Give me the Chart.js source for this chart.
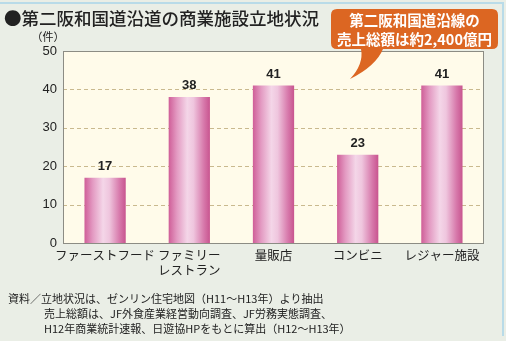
<!DOCTYPE html>
<html>
<head>
<meta charset="utf-8">
<script src="https://cdn.jsdelivr.net/npm/chart.js@4/dist/chart.umd.min.js"></script>
<style>
  html, body { margin: 0; padding: 0; background: #eaeee6; }
  #wrap { width: 506px; height: 341px; position: relative; }
</style>
</head>
<body>
<div id="wrap"><canvas id="chart" width="506" height="341"></canvas></div>
<script>
const categories = ['ファーストフード', ['ファミリー', 'レストラン'], '量販店', 'コンビニ', 'レジャー施設'];
const counts = [17, 38, 41, 23, 41];
const yTicks = [0, 10, 20, 30, 40, 50];

const titleText = '●第二阪和国道沿道の商業施設立地状況';
const unitText = '（件）';
const calloutLines = ['第二阪和国道沿線の', '売上総額は約2,400億円'];
const noteLines = [
  '資料／立地状況は、ゼンリン住宅地図（H11～H13年）より抽出',
  '売上総額は、JF外食産業経営動向調査、JF労務実態調査、',
  'H12年商業統計速報、日遊協HPをもとに算出（H12～H13年）'
];

const JP = '"Noto Sans CJK JP", "Noto Sans", sans-serif';
const BAR_PCT = 0.49;

// cylinder-like pink shading across each bar
function barGradient(context) {
  const chart = context.chart;
  const xs = chart.scales.x;
  if (!xs || !chart.chartArea) return '#e08ab8';
  const cx = xs.getPixelForValue(context.dataIndex);
  const w = (chart.chartArea.right - chart.chartArea.left) / categories.length * BAR_PCT;
  const g = chart.ctx.createLinearGradient(cx - w / 2, 0, cx + w / 2, 0);
  g.addColorStop(0, '#cf5e98');
  g.addColorStop(0.2, '#e39ac2');
  g.addColorStop(0.45, '#f4d6e8');
  g.addColorStop(0.6, '#efc6de');
  g.addColorStop(0.85, '#d779ab');
  g.addColorStop(1, '#c8548f');
  return g;
}

// dashed horizontal grid lines between the frame edges
const gridDash = {
  id: 'gridDash',
  beforeDatasetsDraw(chart) {
    const { ctx, chartArea: a, scales: { y } } = chart;
    ctx.save();
    ctx.strokeStyle = '#c9b98e';
    ctx.lineWidth = 1;
    ctx.setLineDash([4, 3]);
    y.ticks.forEach(t => {
      if (t.value === 0 || t.value === 50) return;
      const py = Math.round(y.getPixelForValue(t.value)) + 0.5;
      ctx.beginPath();
      ctx.moveTo(a.left, py);
      ctx.lineTo(a.right, py);
      ctx.stroke();
    });
    ctx.restore();
  }
};

const decor = {
  id: 'decor',
  beforeDraw(chart) {
    const { ctx, chartArea: a } = chart;
    ctx.save();
    // outer panel
    ctx.fillStyle = '#eaeee6';
    ctx.fillRect(0, 0, 506, 341);
    ctx.strokeStyle = '#b9dbe8';
    ctx.lineWidth = 2;
    ctx.beginPath();
    ctx.moveTo(0, 3); ctx.lineTo(503, 3); ctx.lineTo(503, 336);
    ctx.stroke();
    // plot background
    ctx.fillStyle = '#fffbea';
    ctx.fillRect(a.left, a.top, a.right - a.left, a.bottom - a.top);
    ctx.restore();
  },
  afterDraw(chart) {
    const { ctx, chartArea: a } = chart;
    ctx.save();
    // plot frame
    ctx.strokeStyle = '#8c8c84';
    ctx.lineWidth = 1;
    ctx.strokeRect(a.left + 0.5, a.top + 0.5, a.right - a.left - 1, a.bottom - a.top);

    // title
    ctx.fillStyle = '#222';
    ctx.font = '500 17.5px ' + JP;
    ctx.textBaseline = 'middle';
    ctx.textAlign = 'left';
    ctx.fillText(titleText, 4, 18);

    // unit
    ctx.font = '11px ' + JP;
    ctx.textAlign = 'center';
    ctx.fillText(unitText, 48, 37);

    // callout bubble
    const bx = 331, by = 9, bw = 167, bh = 40, r = 6;
    ctx.fillStyle = '#dc6622';
    ctx.beginPath();
    ctx.moveTo(bx + r, by);
    ctx.lineTo(bx + bw - r, by);
    ctx.quadraticCurveTo(bx + bw, by, bx + bw, by + r);
    ctx.lineTo(bx + bw, by + bh - r);
    ctx.quadraticCurveTo(bx + bw, by + bh, bx + bw - r, by + bh);
    ctx.lineTo(383, by + bh);
    ctx.quadraticCurveTo(376, 66, 350, 79);
    ctx.quadraticCurveTo(364, 64, 361, by + bh);
    ctx.lineTo(bx + r, by + bh);
    ctx.quadraticCurveTo(bx, by + bh, bx, by + bh - r);
    ctx.lineTo(bx, by + r);
    ctx.quadraticCurveTo(bx, by, bx + r, by);
    ctx.closePath();
    ctx.fill();
    ctx.fillStyle = '#fff';
    ctx.font = 'bold 14.5px ' + JP;
    ctx.textAlign = 'center';
    ctx.fillText(calloutLines[0], bx + bw / 2, 20);
    ctx.fillText(calloutLines[1], bx + bw / 2, 39);

    // value labels above bars
    ctx.fillStyle = '#222';
    ctx.font = 'bold 13px "Liberation Sans", sans-serif';
    ctx.textBaseline = 'bottom';
    chart.getDatasetMeta(0).data.forEach((el, i) => {
      ctx.fillText(String(counts[i]), el.x, el.y - 5);
    });

    // source notes
    ctx.font = '11px ' + JP;
    ctx.textAlign = 'left';
    ctx.textBaseline = 'middle';
    ctx.fillText(noteLines[0], 8, 299);
    ctx.fillText(noteLines[1], 44, 314);
    ctx.fillText(noteLines[2], 44, 329);
    ctx.restore();
  }
};

new Chart(document.getElementById('chart'), {
  type: 'bar',
  data: {
    labels: categories,
    datasets: [{
      data: counts,
      backgroundColor: barGradient,
      borderWidth: 0,
      categoryPercentage: 1,
      barPercentage: BAR_PCT
    }]
  },
  options: {
    responsive: false,
    animation: false,
    events: [],
    layout: { padding: { left: 0, right: 22, top: 51, bottom: 0 } },
    plugins: { legend: { display: false }, tooltip: { enabled: false } },
    scales: {
      x: {
        grid: { display: false, drawTicks: false },
        border: { display: false },
        ticks: {
          color: '#222',
          padding: 5,
          maxRotation: 0,
          autoSkip: false,
          font: { family: JP, size: 12.5 }
        },
        afterFit(scale) { scale.height = 98; }
      },
      y: {
        min: 0,
        max: 50,
        afterBuildTicks(scale) { scale.ticks = yTicks.map(v => ({ value: v })); },
        grid: { display: false, drawTicks: false },
        border: { display: false },
        ticks: {
          color: '#222',
          padding: 6,
          font: { family: '"Liberation Sans", sans-serif', size: 13 }
        },
        afterFit(scale) { scale.width = 63; }
      }
    }
  },
  plugins: [decor, gridDash]
});
</script>
</body>
</html>
